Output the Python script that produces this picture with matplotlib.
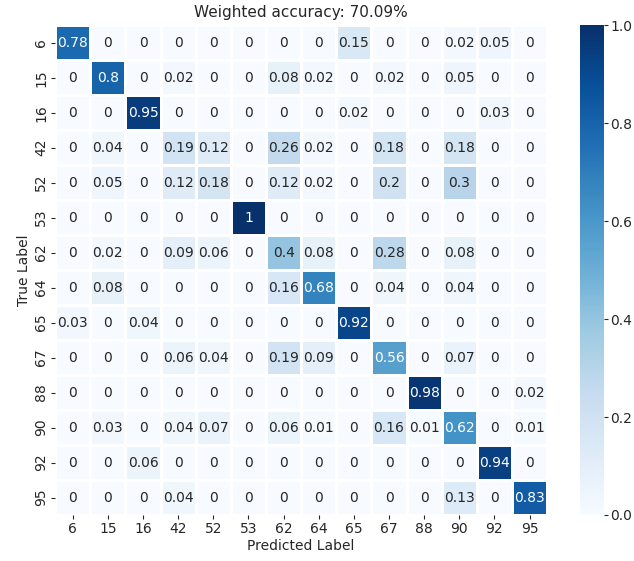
import numpy as np
import matplotlib
matplotlib.use("Agg")
import matplotlib.pyplot as plt
import seaborn as sns

labels = ["6", "15", "16", "42", "52", "53", "62", "64", "65", "67", "88", "90", "92", "95"]

# normalised confusion matrix, rows = true class, columns = predicted class
row_6 = [0.78, 0, 0, 0, 0, 0, 0, 0, 0.15, 0, 0, 0.02, 0.05, 0]
row_15 = [0, 0.8, 0, 0.02, 0, 0, 0.08, 0.02, 0, 0.02, 0, 0.05, 0, 0]
row_16 = [0, 0, 0.95, 0, 0, 0, 0, 0, 0.02, 0, 0, 0, 0.03, 0]
row_42 = [0, 0.04, 0, 0.19, 0.12, 0, 0.26, 0.02, 0, 0.18, 0, 0.18, 0, 0]
row_52 = [0, 0.05, 0, 0.12, 0.18, 0, 0.12, 0.02, 0, 0.2, 0, 0.3, 0, 0]
row_53 = [0, 0, 0, 0, 0, 1, 0, 0, 0, 0, 0, 0, 0, 0]
row_62 = [0, 0.02, 0, 0.09, 0.06, 0, 0.4, 0.08, 0, 0.28, 0, 0.08, 0, 0]
row_64 = [0, 0.08, 0, 0, 0, 0, 0.16, 0.68, 0, 0.04, 0, 0.04, 0, 0]
row_65 = [0.03, 0, 0.04, 0, 0, 0, 0, 0, 0.92, 0, 0, 0, 0, 0]
row_67 = [0, 0, 0, 0.06, 0.04, 0, 0.19, 0.09, 0, 0.56, 0, 0.07, 0, 0]
row_88 = [0, 0, 0, 0, 0, 0, 0, 0, 0, 0, 0.98, 0, 0, 0.02]
row_90 = [0, 0.03, 0, 0.04, 0.07, 0, 0.06, 0.01, 0, 0.16, 0.01, 0.62, 0, 0.01]
row_92 = [0, 0, 0.06, 0, 0, 0, 0, 0, 0, 0, 0, 0, 0.94, 0]
row_95 = [0, 0, 0, 0.04, 0, 0, 0, 0, 0, 0, 0, 0.13, 0, 0.83]

weighted_accuracy = 70.09

cm = np.array([row_6, row_15, row_16, row_42, row_52, row_53, row_62,
               row_64, row_65, row_67, row_88, row_90, row_92, row_95])

fig = plt.figure(figsize=(6.34, 5.61), dpi=100)
ax = fig.add_axes([0.087, 0.082, 0.776, 0.873])
cax = fig.add_axes([0.915, 0.082, 0.038, 0.873])

sns.heatmap(cm, ax=ax, cbar_ax=cax, annot=True, fmt="g", cmap="Blues",
            vmin=0, vmax=1, linewidths=1, linecolor="white",
            xticklabels=labels, yticklabels=labels,
            annot_kws={"fontsize": 10})

text_col = "#262626"
ax.set_title(f"Weighted accuracy: {weighted_accuracy:.2f}%", fontsize=11, color=text_col)
ax.set_xlabel("Predicted Label", fontsize=10, color=text_col, labelpad=2)
ax.set_ylabel("True Label", fontsize=10, color=text_col, labelpad=2)
ax.tick_params(axis="both", labelsize=10, colors=text_col, length=3, pad=2)
plt.setp(ax.get_yticklabels(), rotation=90, va="center")
plt.setp(ax.get_xticklabels(), rotation=0)
cax.tick_params(labelsize=10, colors=text_col, length=3, pad=1.5)
cax.set_yticks([0.0, 0.2, 0.4, 0.6, 0.8, 1.0])
cax.set_yticklabels(["0.0", "0.2", "0.4", "0.6", "0.8", "1.0"])

fig.savefig("out.png", dpi=100)
